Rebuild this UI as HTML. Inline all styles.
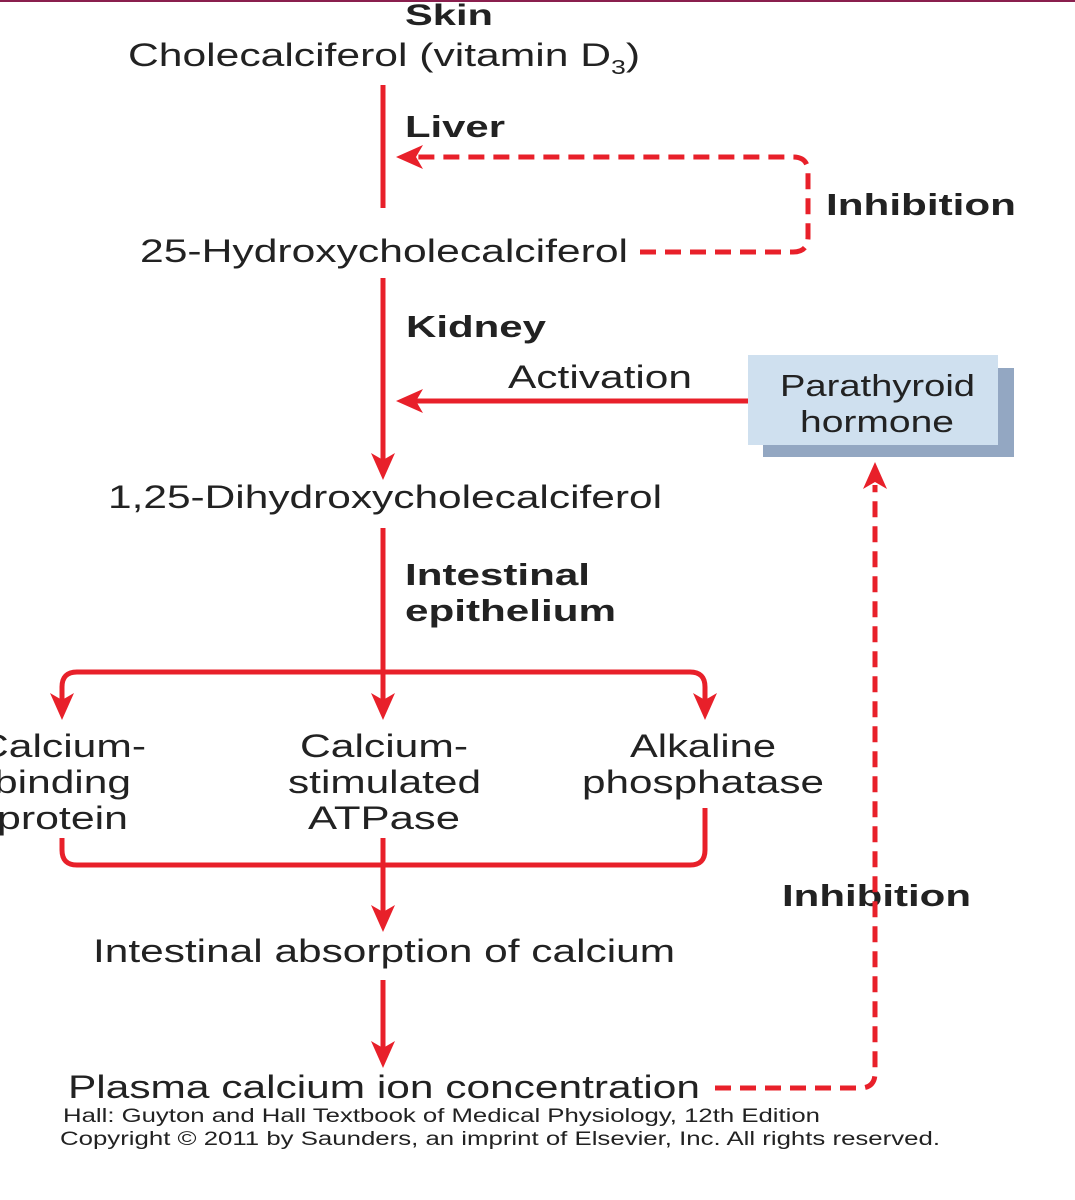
<!DOCTYPE html>
<html><head><meta charset="utf-8"><style>
html,body{margin:0;padding:0;background:#fff;}
svg{display:block;font-family:"Liberation Sans",Arial,sans-serif;}
</style></head><body>
<svg width="1075" height="1200" viewBox="0 0 1075 1200" xmlns="http://www.w3.org/2000/svg">
<rect x="0" y="0" width="1075" height="2" fill="#8a1f4e"/>
<g fill="#222" font-size="32" lengthAdjust="spacingAndGlyphs">
<text x="405" y="25" font-weight="bold" font-size="30" textLength="88" lengthAdjust="spacingAndGlyphs">Skin</text>
<text x="128" y="66" textLength="512" lengthAdjust="spacingAndGlyphs">Cholecalciferol (vitamin D<tspan font-size="20" dy="8">3</tspan><tspan dy="-8">)</tspan></text>
<text x="405" y="137" font-weight="bold" font-size="31" textLength="100" lengthAdjust="spacingAndGlyphs">Liver</text>
<text x="826" y="215" font-weight="bold" font-size="31" textLength="190" lengthAdjust="spacingAndGlyphs">Inhibition</text>
<text x="140" y="262" textLength="488" lengthAdjust="spacingAndGlyphs">25-Hydroxycholecalciferol</text>
<text x="406" y="337" font-weight="bold" font-size="31" textLength="140" lengthAdjust="spacingAndGlyphs">Kidney</text>
<text x="508" y="388" textLength="184" lengthAdjust="spacingAndGlyphs">Activation</text>
<text x="108" y="508" textLength="554" lengthAdjust="spacingAndGlyphs">1,25-Dihydroxycholecalciferol</text>
<text x="405" y="585" font-weight="bold" font-size="31" textLength="185" lengthAdjust="spacingAndGlyphs">Intestinal</text>
<text x="405" y="621" font-weight="bold" font-size="31" textLength="211" lengthAdjust="spacingAndGlyphs">epithelium</text>
<text x="-22" y="757" textLength="168" lengthAdjust="spacingAndGlyphs">Calcium-</text>
<text x="-6" y="793" textLength="137" lengthAdjust="spacingAndGlyphs">binding</text>
<text x="-3" y="829" textLength="131" lengthAdjust="spacingAndGlyphs">protein</text>
<text x="300" y="757" textLength="168" lengthAdjust="spacingAndGlyphs">Calcium-</text>
<text x="288" y="793" textLength="193" lengthAdjust="spacingAndGlyphs">stimulated</text>
<text x="308" y="829" textLength="152" lengthAdjust="spacingAndGlyphs">ATPase</text>
<text x="630" y="757" textLength="146" lengthAdjust="spacingAndGlyphs">Alkaline</text>
<text x="582" y="793" textLength="242" lengthAdjust="spacingAndGlyphs">phosphatase</text>
<text x="782" y="906" font-weight="bold" font-size="31" textLength="189" lengthAdjust="spacingAndGlyphs">Inhibition</text>
<text x="93" y="962" textLength="582" lengthAdjust="spacingAndGlyphs">Intestinal absorption of calcium</text>
<text x="68" y="1098" textLength="632" lengthAdjust="spacingAndGlyphs">Plasma calcium ion concentration</text>
<text x="63" y="1122" font-size="19" textLength="757" lengthAdjust="spacingAndGlyphs">Hall: Guyton and Hall Textbook of Medical Physiology, 12th Edition</text>
<text x="60" y="1145" font-size="19" textLength="880" lengthAdjust="spacingAndGlyphs">Copyright © 2011 by Saunders, an imprint of Elsevier, Inc. All rights reserved.</text>
</g>
<rect x="763" y="368" width="251" height="89" fill="#93a7c2"/>
<rect x="748" y="355" width="250" height="90" fill="#cfe0ef"/>
<text x="780" y="396" font-size="31" fill="#222" textLength="195" lengthAdjust="spacingAndGlyphs">Parathyroid</text>
<text x="800" y="432" font-size="31" fill="#222" textLength="154" lengthAdjust="spacingAndGlyphs">hormone</text>
<g stroke="#e8202a" stroke-width="5" fill="none">
<line x1="383" y1="85" x2="383" y2="208"/>
<line x1="383" y1="278" x2="383" y2="460"/>
<line x1="383" y1="528" x2="383" y2="700"/>
<path d="M62 700 V687 Q62 672 77 672 H690 Q705 672 705 687 V700"/>
<path d="M62 838 V850 Q62 865 77 865 H690 Q705 865 705 850 V808"/>
<line x1="383" y1="838" x2="383" y2="912"/>
<line x1="383" y1="980" x2="383" y2="1048"/>
<line x1="748" y1="401" x2="415" y2="401"/>
<g stroke-dasharray="16,9">
<path d="M640 252 H793 Q808 252 808 237 V172 Q808 157 793 157 H418"/>
<path d="M715 1088 H860 Q875 1088 875 1073 V485"/>
</g>
</g>
<g fill="#e8202a">
<polygon points="383,480 371,453 383,460 395,453"/>
<polygon points="383,720 371,693 383,700 395,693"/>
<polygon points="62,720 50,693 62,700 74,693"/>
<polygon points="705,720 693,693 705,700 717,693"/>
<polygon points="383,932 371,905 383,912 395,905"/>
<polygon points="383,1068 371,1041 383,1048 395,1041"/>
<polygon points="396,401 423,389 416,401 423,413"/>
<polygon points="396,157 423,145 416,157 423,169"/>
<polygon points="875,462 863,489 875,482 887,489"/>
</g>
</svg>
</body></html>
